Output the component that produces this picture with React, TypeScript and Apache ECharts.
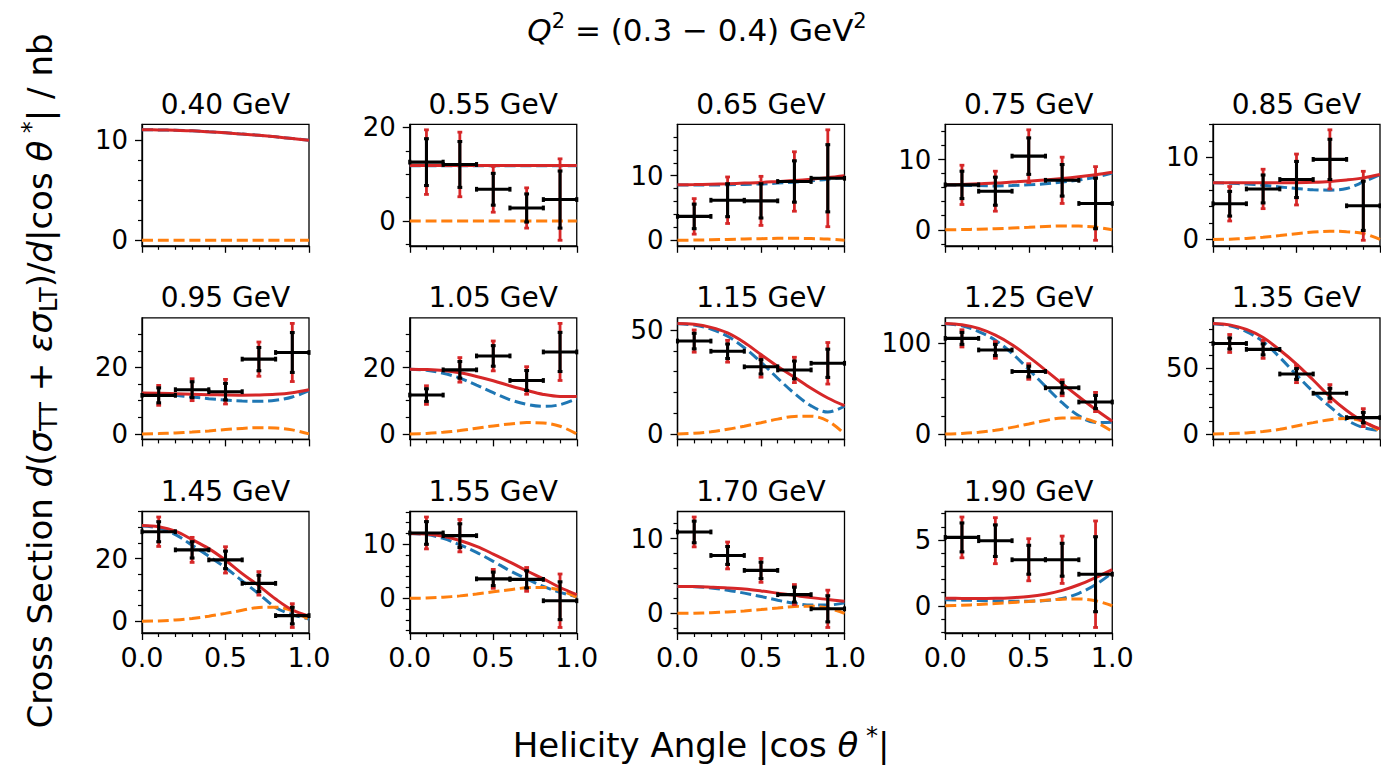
import { useEffect, useRef } from 'react';
import * as echarts from 'echarts';

// ---- Panel labels (invariant mass bins) ----
const W_BINS = ['0.40', '0.55', '0.65', '0.75', '0.85', '0.95', '1.05', '1.15', '1.25', '1.35', '1.45', '1.55', '1.70', '1.90'];

// ---- Sampling of the model curves in |cos θ*| ----
const CURVE_X = [0, 0.1, 0.2, 0.3, 0.4, 0.5, 0.6, 0.7, 0.8, 0.9, 1.0];

// ---- Measured bins in |cos θ*| ----
const BIN_CENTERS = [0.1, 0.3, 0.5, 0.7, 0.9];
const BIN_HALF_WIDTH = 0.1;

// ---- Axis ticks ----
const X_MAJOR = 0.5;
const Y_MAJOR_STEP = [10, 20, 10, 10, 10, 20, 20, 50, 100, 50, 20, 10, 10, 5];
const Y_MINOR_STEP = [2, 5, 2, 2, 2, 5, 5, 10, 20, 10, 5, 2, 2, 1];

// ---- Full model (solid red) ----
const modelTotal: number[][] = [
  [11.05, 11.04, 11.0, 10.95, 10.85, 10.75, 10.62, 10.5, 10.35, 10.18, 10.0],
  [11.9, 11.9, 11.9, 11.9, 11.9, 11.9, 11.9, 11.9, 11.9, 11.9, 11.9],
  [8.6, 8.62, 8.68, 8.75, 8.85, 8.95, 9.1, 9.25, 9.45, 9.7, 10.0],
  [6.4, 6.45, 6.55, 6.65, 6.8, 6.95, 7.1, 7.3, 7.55, 7.85, 8.2],
  [6.9, 6.9, 6.9, 6.9, 6.9, 6.92, 6.97, 7.07, 7.25, 7.5, 7.9],
  [12.3, 12.25, 12.1, 11.95, 11.8, 11.7, 11.65, 11.7, 11.9, 12.4, 13.3],
  [19.5, 19.4, 19.1, 18.4, 17.3, 16.0, 14.5, 13.1, 11.9, 11.3, 11.3],
  [53.2, 52.8, 51.3, 48.6, 44.0, 38.2, 32.5, 27.3, 22.0, 17.3, 13.6],
  [122, 120.5, 116.5, 109, 98.5, 85, 70.5, 55.5, 41, 27, 14],
  [84.3, 83.2, 79.7, 73.6, 64, 53.3, 41.1, 28.4, 17.8, 9.4, 3.8],
  [30.6, 30.2, 28.8, 26.1, 23.2, 19.5, 15.2, 11.3, 7.1, 3.6, 1.6],
  [12.0, 11.9, 11.5, 10.7, 9.6, 8.2, 6.7, 5.1, 3.6, 2.0, 0.7],
  [3.6, 3.58, 3.5, 3.4, 3.25, 3.0, 2.7, 2.4, 2.1, 1.85, 1.6],
  [0.57, 0.56, 0.55, 0.57, 0.62, 0.7, 0.88, 1.17, 1.6, 2.15, 2.75],
];

// ---- TT part (dashed blue) ----
const modelTT: number[][] = [
  [11.05, 11.04, 11.0, 10.95, 10.85, 10.75, 10.62, 10.5, 10.35, 10.18, 10.0],
  [11.85, 11.85, 11.85, 11.85, 11.85, 11.85, 11.85, 11.85, 11.85, 11.85, 11.85],
  [8.55, 8.55, 8.55, 8.6, 8.65, 8.72, 8.85, 9.0, 9.2, 9.45, 9.8],
  [6.4, 6.35, 6.3, 6.25, 6.3, 6.4, 6.55, 6.8, 7.1, 7.5, 8.1],
  [6.9, 6.85, 6.75, 6.6, 6.4, 6.2, 6.05, 6.0, 6.2, 7.0, 7.9],
  [12.2, 12.0, 11.6, 11.1, 10.6, 10.2, 9.9, 9.8, 10.1, 11.1, 13.0],
  [19.5, 19.2, 18.3, 16.8, 14.7, 12.4, 10.3, 8.9, 8.3, 8.8, 10.6],
  [53.0, 52.4, 50.5, 47.0, 41.5, 34.5, 26.8, 19.5, 13.5, 10.5, 13.3],
  [121.6, 119.4, 113, 103.5, 89, 71, 52.5, 34.5, 20, 12.5, 13],
  [84, 82.5, 78, 70.3, 58.4, 45, 32.2, 20.8, 10.7, 4.8, 2.5],
  [30.4, 29.8, 27.7, 24.3, 20.8, 17.1, 12.9, 8.7, 4.4, 2.1, 0.7],
  [12.0, 11.8, 11.1, 9.9, 8.5, 6.85, 5.1, 3.6, 2.2, 1.1, 0.3],
  [3.6, 3.55, 3.4, 3.1, 2.7, 2.25, 1.75, 1.35, 1.1, 1.1, 1.4],
  [0.45, 0.43, 0.4, 0.37, 0.35, 0.35, 0.4, 0.55, 0.95, 1.6, 2.5],
];

// ---- LT part (dashed orange) ----
const modelLT: number[][] = [
  [0, 0, 0, 0, 0, 0, 0, 0, 0, 0, 0],
  [0, 0, 0, 0, 0, 0, 0, 0, 0, 0, 0],
  [0, 0.03, 0.08, 0.13, 0.2, 0.25, 0.3, 0.3, 0.27, 0.18, 0.0],
  [0, 0.03, 0.08, 0.15, 0.25, 0.36, 0.47, 0.54, 0.52, 0.38, 0.0],
  [0, 0.04, 0.13, 0.28, 0.48, 0.7, 0.9, 1.0, 0.95, 0.72, 0.0],
  [0, 0.08, 0.27, 0.55, 0.9, 1.3, 1.65, 1.85, 1.75, 1.2, 0.0],
  [0, 0.15, 0.5, 1.0, 1.7, 2.4, 3.0, 3.4, 3.3, 2.3, 0.0],
  [0, 0.3, 1.0, 2.2, 3.7, 5.4, 7.1, 8.4, 8.5, 6.2, 0.0],
  [0, 0.5, 1.8, 4.0, 7.2, 11, 14.8, 17.5, 17.5, 13, 2.5],
  [0, 0.2, 0.7, 1.8, 3.5, 6, 8.6, 10.8, 11.8, 9.5, 2.0],
  [0, 0.1, 0.4, 0.9, 1.6, 2.5, 3.5, 4.4, 4.5, 3.3, 0.5],
  [0, 0.05, 0.2, 0.45, 0.8, 1.2, 1.6, 1.95, 2.0, 1.5, 0.2],
  [0, 0.02, 0.08, 0.18, 0.32, 0.5, 0.7, 0.9, 0.95, 0.7, 0.0],
  [0, 0.04, 0.1, 0.17, 0.25, 0.33, 0.42, 0.5, 0.52, 0.38, 0.0],
];

// ---- Measured cross sections (nb) ----
const yValues: (number[] | null)[] = [
  null,
  [12.6, 12.1, 6.8, 2.8, 4.6],
  [3.7, 6.2, 6.1, 9.1, 9.6],
  [6.4, 5.5, 10.5, 7.05, 3.75],
  [4.35, 6.15, 7.3, 9.75, 4.1],
  [11.6, 13.3, 12.7, 22.5, 24.5],
  [11.7, 19.3, 23.5, 16.1, 24.7],
  [44.7, 39.8, 32.3, 30.8, 34.0],
  [105.5, 92.7, 68.9, 50.9, 35.2],
  [69, 64.5, 45.7, 31, 12.4],
  [28.6, 22.8, 19.6, 12.1, 1.8],
  [12.1, 11.6, 3.6, 3.5, -0.45],
  [10.9, 7.75, 5.75, 2.5, 0.6],
  [5.2, 4.95, 3.5, 3.5, 2.4],
];

// ---- Statistical uncertainties ----
const statErr: (number[] | null)[] = [
  null,
  [5.0, 4.9, 3.4, 3.0, 6.1],
  [1.9, 2.55, 2.65, 3.2, 5.2],
  [1.95, 2.0, 2.6, 2.25, 3.6],
  [1.5, 1.7, 2.2, 2.45, 3.0],
  [2.25, 2.4, 2.5, 3.5, 6.0],
  [1.9, 2.5, 3.1, 3.0, 5.9],
  [3.75, 3.5, 3.45, 4.3, 6.8],
  [6.6, 6.2, 5.9, 5.9, 7.3],
  [4.2, 4.2, 4.1, 3.8, 4.0],
  [3.2, 2.6, 2.8, 2.6, 2.65],
  [2.1, 2.2, 1.25, 1.6, 3.5],
  [1.45, 1.2, 1.1, 1.0, 1.75],
  [1.1, 1.2, 1.1, 1.25, 2.85],
];

// ---- Total uncertainties ----
const totErr: (number[] | null)[] = [
  null,
  [6.9, 6.9, 4.9, 4.3, 8.7],
  [2.75, 3.6, 3.8, 4.6, 7.5],
  [2.8, 2.85, 3.75, 3.3, 5.25],
  [2.1, 2.4, 3.1, 3.6, 4.2],
  [3.0, 3.3, 3.7, 5.15, 8.75],
  [2.8, 3.7, 4.5, 4.15, 8.6],
  [5.35, 5.25, 5.0, 6.1, 10.0],
  [9.5, 9.2, 8.6, 8.8, 10.6],
  [6.85, 6.85, 6.6, 6.6, 6.85],
  [4.7, 4.0, 4.2, 3.75, 3.8],
  [2.95, 3.0, 1.75, 2.2, 4.95],
  [2.0, 1.8, 1.6, 1.35, 2.5],
  [1.55, 1.75, 1.6, 1.8, 4.05],
];

// ---- Styling ----
const FONT = 'DejaVu Sans';
const RED = '#d62728';
const BLUE = '#1f77b4';
const ORANGE = '#ff7f0e';
const INK = '#000000';
const DASH = [11, 4.8];

const COLS = 5;
const COL_LEFT = 142;
const COL_STEP = 267.75;
const ROW_TOP = 124.3;
const ROW_STEP = 193.6;
const PANEL_W = 167;
const PANEL_H = 121.5;

function paddedRange(i: number): [number, number] {
  const vals: number[] = [...modelTotal[i], ...modelTT[i], ...modelLT[i]];
  const ys = yValues[i];
  const te = totErr[i];
  if (ys && te) {
    ys.forEach((y, k) => {
      vals.push(y + te[k], y - te[k]);
    });
  }
  const lo = Math.min(...vals);
  const hi = Math.max(...vals);
  const pad = (hi - lo) * 0.05;
  return [lo - pad, hi + pad];
}

function stepTicks(lo: number, hi: number, step: number, skip?: number): number[] {
  const out: number[] = [];
  for (let k = Math.ceil(lo / step); k <= Math.floor(hi / step); k++) {
    const v = Math.round(k * step * 1e6) / 1e6;
    if (skip && Math.abs(v / skip - Math.round(v / skip)) < 1e-9) continue;
    out.push(v);
  }
  return out;
}

function buildOption() {
  const grid: any[] = [];
  const xAxis: any[] = [];
  const yAxis: any[] = [];
  const series: any[] = [];
  const graphic: any[] = [];

  W_BINS.forEach((w, i) => {
    const row = Math.floor(i / COLS);
    const col = i % COLS;
    const left = COL_LEFT + col * COL_STEP;
    const top = ROW_TOP + row * ROW_STEP;
    const [yMin, yMax] = paddedRange(i);
    const majors = stepTicks(yMin, yMax, Y_MAJOR_STEP[i]);
    const minors = stepTicks(yMin, yMax, Y_MINOR_STEP[i], Y_MAJOR_STEP[i]);
    const bottomRow = i >= W_BINS.length - 4;

    grid.push({
      left, top, width: PANEL_W, height: PANEL_H,
      show: true, borderColor: INK, borderWidth: 1.3, backgroundColor: 'transparent',
      containLabel: false,
    });

    xAxis.push({
      type: 'value', gridIndex: i, min: 0, max: 1, interval: X_MAJOR,
      axisLine: { show: true, onZero: false, lineStyle: { color: INK, width: 1.3 } },
      axisTick: { show: true, length: 7, lineStyle: { color: INK, width: 1.3 } },
      minorTick: { show: true, splitNumber: 5, length: 4, lineStyle: { color: INK, width: 1.2 } },
      splitLine: { show: false },
      axisLabel: {
        show: bottomRow, fontSize: 27, fontFamily: FONT, color: INK, margin: 11,
        formatter: (v: number) => v.toFixed(1),
      },
    });

    // major ticks + labels
    yAxis.push({
      type: 'value', gridIndex: i, min: yMin, max: yMax, position: 'left',
      axisLine: { show: true, onZero: false, lineStyle: { color: INK, width: 1.3 } },
      axisTick: { show: true, length: 7, customValues: majors, lineStyle: { color: INK, width: 1.3 } },
      splitLine: { show: false },
      axisLabel: {
        show: true, customValues: majors, fontSize: 26, fontFamily: FONT, color: INK, margin: 14,
        formatter: (v: number) => String(Math.round(v)),
      },
    });
    // minor ticks
    yAxis.push({
      type: 'value', gridIndex: i, min: yMin, max: yMax, position: 'left',
      axisLine: { show: false },
      axisTick: { show: true, length: 4, customValues: minors, lineStyle: { color: INK, width: 1.2 } },
      splitLine: { show: false },
      axisLabel: { show: false },
    });

    const curve = (vals: number[], color: string, dashed: boolean, z: number) => ({
      type: 'line', xAxisIndex: i, yAxisIndex: 2 * i,
      data: CURVE_X.map((x, k) => [x, vals[k]]),
      smooth: 0.35, showSymbol: false, symbol: 'none', silent: true, z,
      lineStyle: { color, width: 3, type: dashed ? DASH : 'solid', cap: 'butt' },
    });
    series.push(curve(modelTT[i], BLUE, true, 2));
    series.push(curve(modelLT[i], ORANGE, true, 3));
    series.push(curve(modelTotal[i], RED, false, 4));

    const ys = yValues[i];
    const se = statErr[i];
    const te = totErr[i];
    if (ys && se && te) {
      series.push({
        type: 'custom', xAxisIndex: i, yAxisIndex: 2 * i, z: 6, silent: true,
        data: BIN_CENTERS.map((x, k) => [x, ys[k], se[k], te[k]]),
        encode: { x: 0, y: 1 },
        renderItem: (_params: any, api: any) => {
          const x = api.value(0);
          const y = api.value(1);
          const s = api.value(2);
          const t = api.value(3);
          const [cx, cy] = api.coord([x, y]);
          const tTop = api.coord([x, y + t])[1];
          const tBot = api.coord([x, y - t])[1];
          const sTop = api.coord([x, y + s])[1];
          const sBot = api.coord([x, y - s])[1];
          const xl = api.coord([x - BIN_HALF_WIDTH, y])[0];
          const xr = api.coord([x + BIN_HALF_WIDTH, y])[0];
          const cap = 2.4;
          const red = { stroke: RED, lineWidth: 2.8 };
          const blk = { stroke: INK, lineWidth: 3.1 };
          const seg = (x1: number, y1: number, x2: number, y2: number, style: any) => ({
            type: 'line', shape: { x1, y1, x2, y2 }, style,
          });
          return {
            type: 'group',
            children: [
              seg(cx, tTop, cx, tBot, red),
              seg(cx - cap, tTop, cx + cap, tTop, red),
              seg(cx - cap, tBot, cx + cap, tBot, red),
              seg(cx, sTop, cx, sBot, blk),
              seg(cx - cap, sTop, cx + cap, sTop, blk),
              seg(cx - cap, sBot, cx + cap, sBot, blk),
              seg(xl, cy, xr, cy, blk),
              seg(xl, cy - cap, xl, cy + cap, blk),
              seg(xr, cy - cap, xr, cy + cap, blk),
            ],
          };
        },
      });
    }

    graphic.push({
      type: 'text', x: left + PANEL_W / 2, y: top - 20, silent: true,
      style: {
        text: `${w} GeV`, fontSize: 28, fontFamily: FONT, fill: INK,
        align: 'center', verticalAlign: 'middle',
      },
    });
  });

  const richSet = (base: number, small: number) => ({
    n: { fontSize: base, fontFamily: FONT, fill: INK, lineHeight: base * 1.25 },
    i: { fontSize: base, fontFamily: FONT, fill: INK, fontStyle: 'italic', lineHeight: base * 1.25 },
    sub: { fontSize: small, fontFamily: FONT, fill: INK, lineHeight: small, verticalAlign: 'bottom' },
    sup: { fontSize: small, fontFamily: FONT, fill: INK, lineHeight: small, verticalAlign: 'top' },
  });

  // overall title
  graphic.push({
    type: 'text', x: 697, y: 30, silent: true,
    style: {
      text: '{i|Q}{sup|2}{n| = (0.3 − 0.4) GeV}{sup|2}',
      rich: richSet(31, 21), fontSize: 31, fontFamily: FONT, fill: INK,
      align: 'center', verticalAlign: 'middle',
    },
  });
  // common x label
  graphic.push({
    type: 'text', x: 701, y: 745, silent: true,
    style: {
      text: '{n|Helicity Angle |cos }{i|θ}{sup| *}{n||}',
      rich: richSet(34, 24), fontSize: 34, fontFamily: FONT, fill: INK,
      align: 'center', verticalAlign: 'middle',
    },
  });
  // common y label
  graphic.push({
    type: 'text', x: 40, y: 381, rotation: Math.PI / 2, silent: true,
    style: {
      text: '{n|Cross Section }{i|d}{n|(}{i|σ}{sub|TT}{n| + }{i|εσ}{sub|LT}{n|)/}{i|d}{n||cos }{i|θ}{sup| *}{n|| / nb}',
      rich: richSet(34, 24), fontSize: 34, fontFamily: FONT, fill: INK,
      align: 'center', verticalAlign: 'middle',
    },
  });

  return {
    animation: false,
    backgroundColor: '#ffffff',
    textStyle: { fontFamily: FONT },
    grid, xAxis, yAxis, series, graphic,
  };
}

export default function App() {
  const ref = useRef<HTMLDivElement>(null);
  useEffect(() => {
    if (!ref.current) return;
    const chart = echarts.init(ref.current, undefined, { renderer: 'svg' });
    chart.setOption(buildOption() as any);
    return () => chart.dispose();
  }, []);
  return (
    <div
      ref={ref}
      style={{ position: 'fixed', left: 0, top: 0, width: 1381, height: 765, background: '#fff' }}
    />
  );
}
